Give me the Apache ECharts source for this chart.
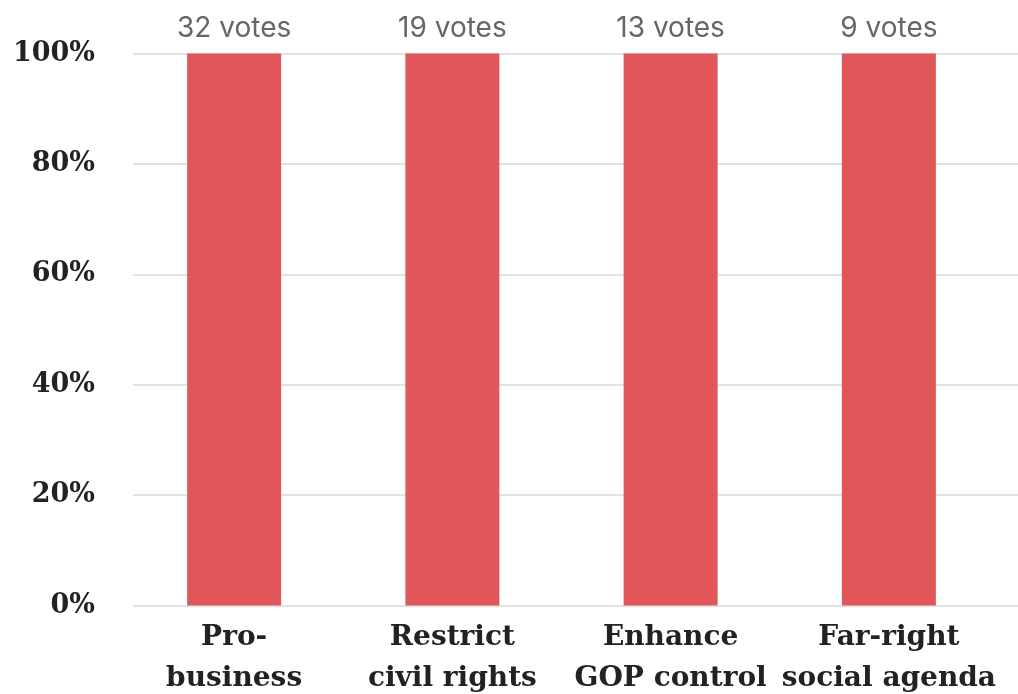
<!DOCTYPE html>
<html><head><meta charset="utf-8">
<script src="https://cdn.jsdelivr.net/npm/echarts@6/dist/echarts.min.js"></script>
<style>html,body{margin:0;padding:0;background:#fff}#c{width:1018px;height:694px}</style>
</head><body><div id="c"></div>
<script>
var categories = ["Pro-\nbusiness", "Restrict\ncivil rights", "Enhance\nGOP control", "Far-right\nsocial agenda"];
var percents = [100, 100, 100, 100];
var votes = [32, 19, 13, 9];
var yTicks = [0, 20, 40, 60, 80, 100];

var chart = echarts.init(document.getElementById('c'));
var serif = 'DejaVu Serif';
chart.setOption({
  animation: false,
  grid: [
    {left: 125, right: 20, top: 53.5, bottom: 88.5, containLabel: false, outerBoundsMode: 'none'},
    {left: 133, right: 0, top: 53.5, bottom: 88.5, containLabel: false, outerBoundsMode: 'none'}
  ],
  xAxis: [
    {type: 'category', gridIndex: 0, data: categories,
     axisLine: {show: false}, axisTick: {show: false},
     axisLabel: {interval: 0, margin: 12, fontFamily: serif, fontWeight: 'bold', fontSize: 28, color: '#222', lineHeight: 41}},
    {type: 'category', gridIndex: 1, data: [''], show: false}
  ],
  yAxis: [
    {type: 'value', gridIndex: 0, min: 0, max: 100, interval: 20, show: false, splitLine: {show: false}},
    {type: 'value', gridIndex: 1, min: yTicks[0], max: yTicks[yTicks.length-1], interval: 20,
     axisLine: {show: false}, axisTick: {show: false},
     splitLine: {lineStyle: {color: '#d9d9d9', width: 1.5}},
     axisLabel: {margin: 38, fontFamily: serif, fontWeight: 'bold', fontSize: 27, color: '#222', formatter: '{value}%'}}
  ],
  series: [{
    type: 'bar', xAxisIndex: 0, yAxisIndex: 0,
    data: percents, barWidth: 94,
    itemStyle: {color: '#e15759'},
    label: {show: true, position: 'top', distance: 11,
      fontFamily: 'Inter', fontSize: 28, color: '#666',
      formatter: function(p){ return votes[p.dataIndex] + ' votes'; }}
  }]
});
</script></body></html>
